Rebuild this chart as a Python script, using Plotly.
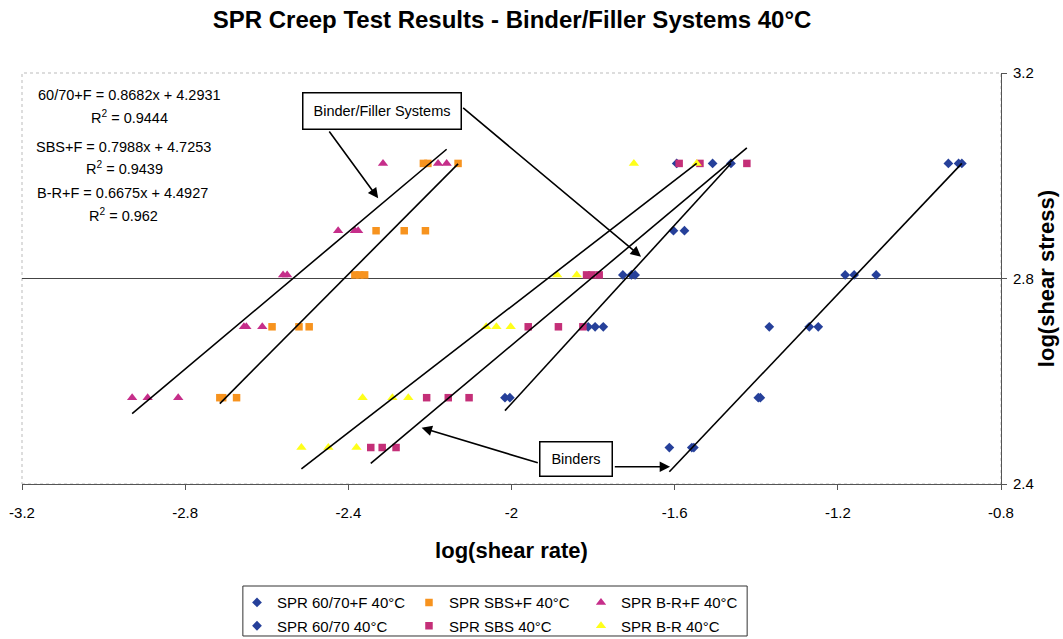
import plotly.graph_objects as go

# ---------------- data ----------------
x_tick_vals = [-3.2, -2.8, -2.4, -2.0, -1.6, -1.2, -0.8]
x_tick_text = ["-3.2", "-2.8", "-2.4", "-2", "-1.6", "-1.2", "-0.8"]
y_tick_vals = [2.4, 2.8, 3.2]
y_tick_text = ["2.4", "2.8", "3.2"]

series_names = ["SPR 60/70+F 40°C", "SPR SBS+F 40°C", "SPR B-R+F 40°C",
                "SPR 60/70 40°C", "SPR SBS 40°C", "SPR B-R 40°C"]

x_6070F = [-1.595, -1.507, -1.462, -1.603, -1.576, -1.727, -1.706, -1.697,
           -1.812, -1.795, -1.775, -2.016, -2.004]
y_6070F = [3.024, 3.024, 3.024, 2.893, 2.893, 2.807, 2.807, 2.807,
           2.706, 2.706, 2.706, 2.568, 2.568]

x_SBSF = [-2.216, -2.205, -2.131, -2.332, -2.263, -2.211, -2.384, -2.372, -2.360,
          -2.587, -2.521, -2.496, -2.715, -2.708, -2.674]
y_SBSF = [3.024, 3.024, 3.024, 2.893, 2.893, 2.893, 2.807, 2.807, 2.807,
          2.706, 2.706, 2.706, 2.568, 2.568, 2.568]

x_BRF = [-2.315, -2.180, -2.159, -2.425, -2.384, -2.376, -2.560, -2.550,
         -2.656, -2.650, -2.611, -2.930, -2.892, -2.817]
y_BRF = [3.024, 3.024, 3.024, 2.893, 2.893, 2.893, 2.807, 2.807,
         2.706, 2.706, 2.706, 2.568, 2.568, 2.568]

x_6070 = [-0.929, -0.904, -0.896, -1.182, -1.160, -1.106, -1.368, -1.270, -1.248,
          -1.395, -1.390, -1.613, -1.558, -1.553]
y_6070 = [3.024, 3.024, 3.024, 2.807, 2.807, 2.807, 2.706, 2.706, 2.706,
          2.568, 2.568, 2.471, 2.471, 2.471]

x_SBS = [-1.589, -1.538, -1.423, -1.816, -1.803, -1.785, -1.959, -1.885, -1.825,
         -2.208, -2.155, -2.104, -2.345, -2.317, -2.283]
y_SBS = [3.024, 3.024, 3.024, 2.807, 2.807, 2.807, 2.706, 2.706, 2.706,
         2.568, 2.568, 2.568, 2.471, 2.471, 2.471]

x_BR = [-1.700, -1.546, -1.888, -1.840, -2.062, -2.037, -2.002,
        -2.365, -2.292, -2.253, -2.515, -2.449, -2.380]
y_BR = [3.024, 3.024, 2.807, 2.807, 2.706, 2.706, 2.706,
        2.568, 2.568, 2.568, 2.471, 2.471, 2.471]

# linear trend lines  y = slope * x + intercept
fit_labels = ["60/70+F", "SBS+F", "B-R+F", "60/70", "SBS", "B-R"]
fit_slopes = [0.8682, 0.7988, 0.6675, 0.837, 0.666, 0.6137]
fit_intercepts = [4.2931, 4.7253, 4.4927, 3.774, 4.002, 3.973]
fit_r2 = [0.9444, 0.9439, 0.962]

# ---------------- styling ----------------
FONT = "Liberation Sans, Arial, sans-serif"
xs = [x_6070F, x_SBSF, x_BRF, x_6070, x_SBS, x_BR]
ys = [y_6070F, y_SBSF, y_BRF, y_6070, y_SBS, y_BR]
colors = ["#26409A", "#F7931E", "#C62E8A", "#26409A", "#C42F78", "#FFFF1A"]
symbols = ["diamond", "square", "triangle-up", "diamond", "square", "triangle-up"]
sizes = [7.5, 7.5, 9, 7.5, 7.5, 9]
legends = ["legend", "legend", "legend", "legend2", "legend2", "legend2"]

fig = go.Figure()
for i in range(6):
    fig.add_trace(go.Scatter(
        x=xs[i], y=ys[i], mode="markers", name=series_names[i],
        marker=dict(symbol=symbols[i], color=colors[i], size=sizes[i], line=dict(width=0)),
        legend=legends[i], showlegend=True,
    ))

for i in range(6):
    x0, x1 = min(xs[i]), max(xs[i])
    fig.add_trace(go.Scatter(
        x=[x0, x1], y=[fit_slopes[i] * x0 + fit_intercepts[i], fit_slopes[i] * x1 + fit_intercepts[i]],
        mode="lines", line=dict(color="black", width=1.6), showlegend=False, hoverinfo="skip",
    ))

# equation labels
eq_pos = [(0.1098, 0.9465, 0.1103, 0.8937), (0.1032, 0.8207, 0.1042, 0.7681), (0.1027, 0.7073, 0.1032, 0.6545)]
ann = []
for i in range(3):
    ex, ey, rx, ry = eq_pos[i]
    ann.append(dict(xref="paper", yref="paper", x=ex, y=ey, xanchor="center", yanchor="middle",
                    text=f"{fit_labels[i]} = {fit_slopes[i]:.4f}x + {fit_intercepts[i]:.4f}",
                    showarrow=False, font=dict(family=FONT, size=14.5, color="black")))
    ann.append(dict(xref="paper", yref="paper", x=rx, y=ry, xanchor="center", yanchor="middle",
                    text=f"R<sup>2</sup> = {fit_r2[i]:g}",
                    showarrow=False, font=dict(family=FONT, size=14.5, color="black")))

# callout boxes
ann.append(dict(x=-2.3185, y=3.1256, xref="x", yref="y", text="Binder/Filler Systems", showarrow=False,
                font=dict(family=FONT, size=14.5, color="black"), bgcolor="white",
                bordercolor="black", borderwidth=1.5, borderpad=8.5, width=140, height=18))
ann.append(dict(x=-1.8412, y=2.4492, xref="x", yref="y", text="Binders", showarrow=False,
                font=dict(family=FONT, size=14.5, color="black"), bgcolor="white",
                bordercolor="black", borderwidth=1.5, borderpad=7, width=57, height=19))
# arrows
arrows = [(-2.4494, 3.089, -2.3268, 2.956), (-2.1222, 3.1344, -1.6825, 2.8424),
          (-1.9319, 2.4403, -2.2204, 2.5096), (-1.7504, 2.4337, -1.6113, 2.4337)]
for ax_, ay_, hx, hy in arrows:
    ann.append(dict(x=hx, y=hy, ax=ax_, ay=ay_, xref="x", yref="y", axref="x", ayref="y",
                    text="", showarrow=True, arrowhead=2, arrowsize=1.3, arrowwidth=1.6,
                    arrowcolor="black", standoff=0, startstandoff=0))

fig.update_layout(
    width=1063, height=639,
    margin=dict(l=22, r=62, t=73, b=155, autoexpand=False),
    paper_bgcolor="white", plot_bgcolor="white",
    font=dict(family=FONT, color="black", size=15),
    title=dict(text="<b>SPR Creep Test Results - Binder/Filler Systems 40°C</b>",
               x=0.4817, xref="container", xanchor="center", y=1 - 20 / 639, yref="container",
               yanchor="middle", font=dict(family=FONT, size=24, color="black")),
    xaxis=dict(range=[-3.2, -0.8], tickvals=x_tick_vals, ticktext=x_tick_text,
               showgrid=False, zeroline=False, showline=True, linecolor="#555555", linewidth=1,
               ticks="outside", ticklen=5, tickcolor="#555555", ticklabelstandoff=10,
               tickfont=dict(family=FONT, size=15, color="black"),
               title=dict(text="<b>log(shear rate)</b>", standoff=22,
                          font=dict(family=FONT, size=22, color="black"))),
    yaxis=dict(range=[2.4, 3.2], tickvals=y_tick_vals, ticktext=y_tick_text, side="right",
               showgrid=True, gridcolor="#444444", gridwidth=1, zeroline=False,
               showline=True, linecolor="#555555", linewidth=1,
               ticks="outside", ticklen=5, tickcolor="#555555", ticklabelstandoff=3,
               tickfont=dict(family=FONT, size=15, color="black"),
               title=dict(text="<b>log(shear stress)</b>", standoff=2,
                          font=dict(family=FONT, size=22, color="black"))),
    legend=dict(orientation="h", x=0.2196, xanchor="left", yref="container", y=1 - 602.7 / 639,
                yanchor="middle", entrywidth=127, font=dict(family=FONT, size=15, color="black"),
                bgcolor="rgba(0,0,0,0)", borderwidth=0),
    legend2=dict(orientation="h", x=0.2196, xanchor="left", yref="container", y=1 - 626 / 639,
                 yanchor="middle", entrywidth=127, font=dict(family=FONT, size=15, color="black"),
                 bgcolor="rgba(0,0,0,0)", borderwidth=0),
    annotations=ann,
    shapes=[
        dict(type="rect", xref="paper", yref="paper", x0=0, x1=1, y0=0, y1=1,
             line=dict(color="#BBBBBB", width=1, dash="dot"), layer="below"),
        dict(type="rect", xref="paper", yref="paper", x0=0.2256, x1=0.7407, y0=-0.3698, y1=-0.2482,
             line=dict(color="#333333", width=1), fillcolor="rgba(0,0,0,0)"),
    ],
)

fig.write_html("out.html")
